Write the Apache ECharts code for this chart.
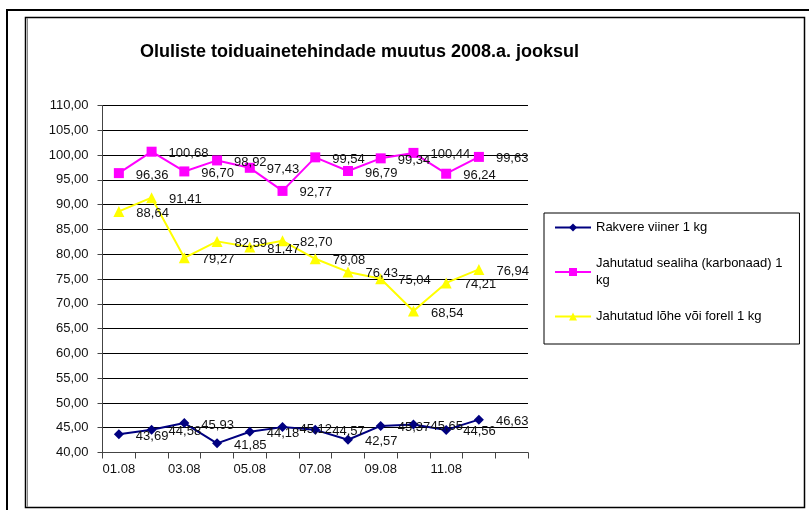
<!DOCTYPE html>
<html>
<head>
<meta charset="utf-8">
<script src="https://cdn.jsdelivr.net/npm/echarts@6/dist/echarts.min.js"></script>
<style>
  html, body { margin: 0; padding: 0; background: #fff; }
  #main { width: 809px; height: 510px; }
</style>
</head>
<body>
<div id="main"></div>
<script>
// chart data
const dates = ['01.08', '02.08', '03.08', '04.08', '05.08', '06.08', '07.08', '08.08', '09.08', '10.08', '11.08', '12.08', ''];
const viiner = [43.69, 44.58, 45.93, 41.85, 44.18, 45.12, 44.57, 42.57, 45.37, 45.65, 44.56, 46.63];
const sealiha = [96.36, 100.68, 96.70, 98.92, 97.43, 92.77, 99.54, 96.79, 99.34, 100.44, 96.24, 99.63];
const lohe = [88.64, 91.41, 79.27, 82.59, 81.47, 82.70, 79.08, 76.43, 75.04, 68.54, 74.21, 76.94];
const names = ['Rakvere viiner 1 kg', 'Jahutatud sealiha (karbonaad) 1 kg', 'Jahutatud lõhe või forell 1 kg'];

const comma = v => v.toFixed(2).replace('.', ',');
const font = 'Arial, "Liberation Sans", sans-serif';

let chart = echarts.init(document.getElementById('main'));

function line(name, data, color, symbol, size) {
    return {
        name: name,
        type: 'line',
        data: data,
        symbol: symbol,
        symbolSize: size,
        showAllSymbol: true,
        lineStyle: { color: color, width: 2 },
        itemStyle: { color: color },
        label: {
            show: true,
            position: 'right',
            distance: 12,
            offset: [0, 2],
            color: '#111',
            fontFamily: font,
            fontSize: 13,
            formatter: p => comma(p.value)
        },
        emphasis: { disabled: true },
        z: 3
    };
}

let option = {
    animation: false,
    title: {
        text: 'Oluliste toiduainetehindade muutus 2008.a. jooksul',
        left: 135,
        top: 38,
        textStyle: { fontFamily: font, fontSize: 18, fontWeight: 'bold', color: '#000' }
    },
    graphic: [
        { type: 'rect', shape: { x: 7, y: 10, width: 900, height: 600 }, style: { fill: null, stroke: '#000', lineWidth: 2 }, silent: true },
        { type: 'rect', shape: { x: 25.5, y: 17.5, width: 779, height: 490 }, style: { fill: null, stroke: '#000', lineWidth: 1.5 }, silent: true },
        { type: 'line', shape: { x1: 27.5, y1: 18, x2: 27.5, y2: 507 }, style: { stroke: '#888', lineWidth: 1 }, silent: true }
    ],
    legend: {
        orient: 'vertical',
        left: 544,
        top: 213,
        width: 256,
        padding: [6, 17, 19, 10],
        itemGap: 19,
        itemWidth: 36,
        itemHeight: 10,
        borderColor: '#000',
        borderWidth: 1,
        data: names,
        formatter: n => n === names[1] ? 'Jahutatud sealiha (karbonaad) 1\nkg' : n,
        textStyle: { fontFamily: font, fontSize: 13, color: '#000', lineHeight: 17 }
    },
    grid: { left: 102.5, right: 281, top: 105.5, bottom: 57.5 },
    xAxis: {
        type: 'category',
        data: dates,
        boundaryGap: true,
        axisLine: { lineStyle: { color: '#444', width: 1 } },
        axisTick: { show: true, interval: 0, length: 6, lineStyle: { color: '#444' } },
        axisLabel: { interval: 1, color: '#111', fontFamily: font, fontSize: 13, margin: 10 },
        splitLine: { show: false }
    },
    yAxis: {
        type: 'value',
        min: 40,
        max: 110,
        interval: 5,
        axisLine: { show: true, lineStyle: { color: '#444', width: 1 } },
        axisTick: { show: true, length: 5, lineStyle: { color: '#444' } },
        axisLabel: { color: '#111', fontFamily: font, fontSize: 13, margin: 14, formatter: v => comma(v) },
        splitLine: { show: true, lineStyle: { color: '#000', width: 1 } }
    },
    series: [
        line(names[0], viiner, '#000080', 'diamond', 10),
        line(names[1], sealiha, '#FF00FF', 'rect', 10),
        line(names[2], lohe, '#FFFF00', 'triangle', 11)
    ]
};

chart.setOption(option);
</script>
</body>
</html>
